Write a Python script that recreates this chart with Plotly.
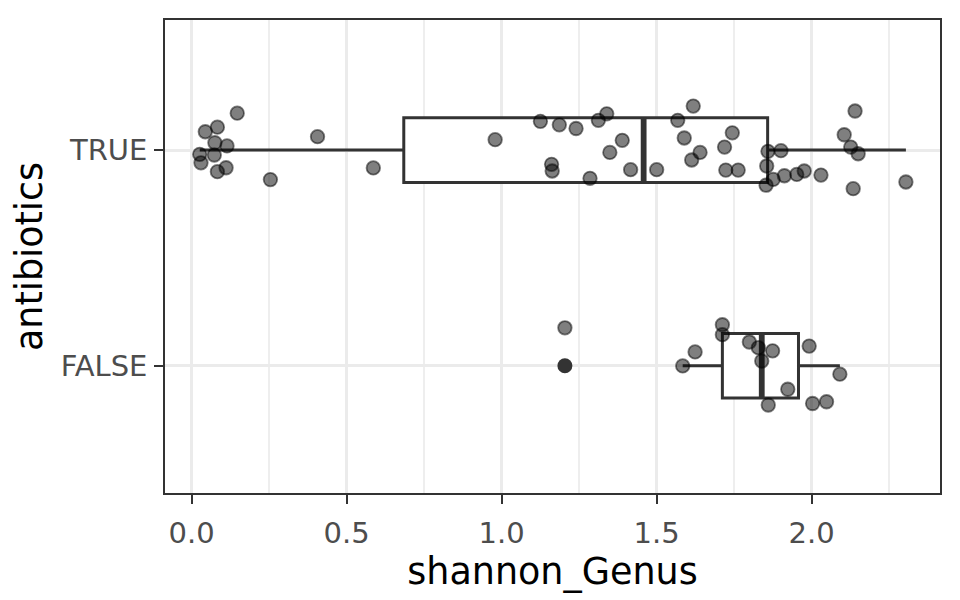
import numpy as np
import plotly.graph_objects as go

# shannon_Genus values, with the vertical jitter of each point
true_vals = [0.147, 0.083, 0.044, 0.075, 0.114, 0.026, 0.073, 0.030, 0.111, 0.083,
             0.254, 0.406, 0.586, 0.979, 1.125, 1.186, 1.161, 1.163, 1.240, 1.312,
             1.339, 1.389, 1.349, 1.285, 1.416, 1.500, 1.618, 1.568, 1.589, 1.640,
             1.613, 1.744, 1.719, 1.723, 1.763, 1.859, 1.901, 1.855, 1.876, 1.853,
             1.912, 1.952, 1.976, 2.030, 2.140, 2.105, 2.126, 2.150, 2.134, 2.304]
true_jit = [0.171, 0.106, 0.085, 0.034, 0.019, -0.020, -0.023, -0.059, -0.082, -0.100,
            -0.137, 0.062, -0.083, 0.048, 0.133, 0.117, -0.066, -0.097, 0.100, 0.138,
            0.168, 0.045, -0.011, -0.131, -0.091, -0.091, 0.204, 0.138, 0.056, -0.011,
            -0.046, 0.080, 0.014, -0.093, -0.093, -0.006, -0.003, -0.074, -0.136, -0.163,
            -0.119, -0.113, -0.097, -0.116, 0.181, 0.071, 0.014, -0.017, -0.179, -0.148]

false_vals = [1.204, 1.624, 1.584, 1.712, 1.712, 1.799, 1.828, 1.874, 1.839, 1.860,
              1.923, 1.992, 2.003, 2.048, 2.091]
false_jit = [0.176, 0.064, -0.001, 0.190, 0.144, 0.110, 0.084, 0.069, 0.022, -0.182,
             -0.109, 0.091, -0.175, -0.167, -0.039]

groups = ["FALSE", "TRUE"]
positions = [1, 2]

TICK_FONT = dict(family="DejaVu Sans", size=29, color="#4D4D4D")
TITLE_FONT = dict(family="DejaVu Sans", size=36.5, color="black")
BOX_W = 0.3


def box_stats(v):
    v = np.asarray(v)
    q1, med, q3 = np.percentile(v, [25, 50, 75])
    iqr = q3 - q1
    inside = v[(v >= q1 - 1.5 * iqr) & (v <= q3 + 1.5 * iqr)]
    outl = v[(v < q1 - 1.5 * iqr) | (v > q3 + 1.5 * iqr)]
    return q1, med, q3, inside.min(), inside.max(), outl


stats = [box_stats(false_vals), box_stats(true_vals)]

fig = go.Figure()

fig.add_trace(go.Box(
    y=positions,
    q1=[s[0] for s in stats],
    median=[s[1] for s in stats],
    q3=[s[2] for s in stats],
    lowerfence=[s[3] for s in stats],
    upperfence=[s[4] for s in stats],
    orientation="h",
    width=BOX_W,
    whiskerwidth=0,
    fillcolor="white",
    line=dict(color="#333333", width=3),
    boxpoints=False,
    hoverinfo="skip",
    showlegend=False,
))

# thicker median lines like ggplot
for pos, s in zip(positions, stats):
    fig.add_trace(go.Scatter(
        x=[s[1], s[1]], y=[pos - BOX_W / 2, pos + BOX_W / 2],
        mode="lines", line=dict(color="#333333", width=5.8),
        showlegend=False, hoverinfo="skip",
    ))
    if len(s[5]):
        fig.add_trace(go.Scatter(
            x=list(s[5]), y=[pos] * len(s[5]), mode="markers",
            marker=dict(color="#333333", size=15),
            showlegend=False,
        ))

# jittered points
for pos, vals, jit in [(1, false_vals, false_jit), (2, true_vals, true_jit)]:
    fig.add_trace(go.Scatter(
        x=vals, y=[pos + j for j in jit], mode="markers",
        marker=dict(color="rgba(0,0,0,0.5)", size=13.5,
                    line=dict(color="rgba(0,0,0,0.5)", width=1.8)),
        showlegend=False,
    ))

# page body has an 8px margin, so offsets are reduced by 8
fig.update_layout(
    width=960, height=600,
    margin=dict(l=157, r=28, t=10, b=115),
    plot_bgcolor="white", paper_bgcolor="white",
)
fig.update_xaxes(
    range=[-0.086, 2.414], tick0=0, dtick=0.5, tickformat=".1f",
    showgrid=True, gridcolor="#EBEBEB", gridwidth=2.6, zeroline=False,
    minor=dict(dtick=0.25, showgrid=True, gridcolor="#EEEEEE", gridwidth=1.6),
    showline=True, linecolor="#333333", linewidth=1.6, mirror=True,
    ticks="outside", ticklen=9, tickwidth=2.4, tickcolor="#333333",
    tickfont=TICK_FONT, ticklabelstandoff=4,
    title=dict(text="shannon_Genus", font=TITLE_FONT, standoff=6),
)
fig.update_yaxes(
    range=[0.41, 2.603], tickvals=positions, ticktext=groups,
    showgrid=True, gridcolor="#EBEBEB", gridwidth=2.6, zeroline=False,
    showline=True, linecolor="#333333", linewidth=1.6, mirror=True,
    ticks="outside", ticklen=9, tickwidth=2.4, tickcolor="#333333",
    tickfont=TICK_FONT, ticklabelstandoff=1,
    title=dict(text="antibiotics", font=TITLE_FONT, standoff=14),
)

fig.write_html("out.html")
